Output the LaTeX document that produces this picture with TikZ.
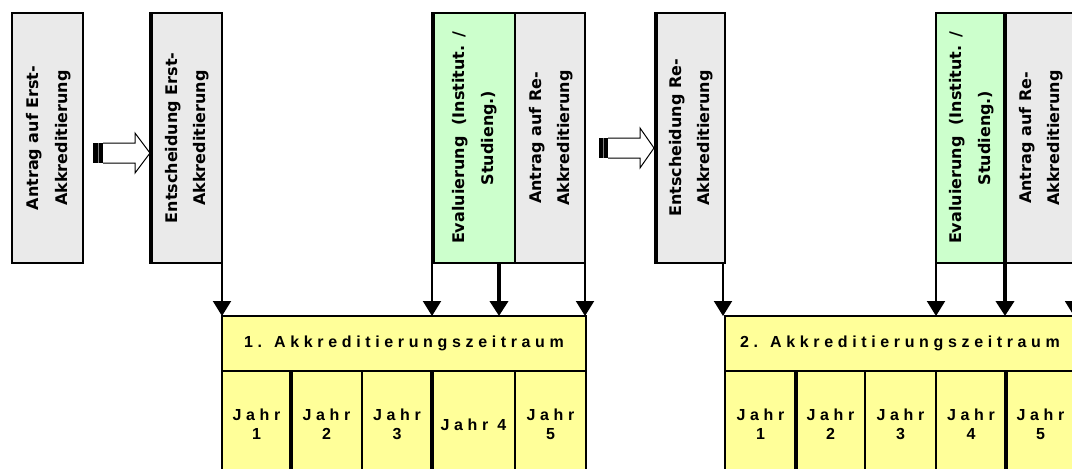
\documentclass[tikz,border=0pt]{standalone}
\usepackage{fontspec}
\usepackage{graphicx}
\usetikzlibrary{arrows.meta,calc}
\newfontfamily\stagefont{DejaVu Sans}
\newfontfamily\periodfont{Liberation Sans}[LetterSpace=29]
\definecolor{boxgray}{RGB}{234,234,234}
\definecolor{evalgreen}{RGB}{204,255,204}
\definecolor{periodyellow}{RGB}{255,255,153}
\newcommand{\vlines}[2]{\rotatebox{90}{\begin{tabular}{@{}c@{}}#1\\#2\end{tabular}}}
\begin{document}
\begin{tikzpicture}[x=1pt,y=-1pt,
  stagebox/.style={draw=black, line width=2pt, fill=boxgray, inner sep=0pt,
    outer sep=0pt, anchor=north west, minimum height=250pt,
    font=\stagefont\bfseries\fontsize{16}{28.5}\selectfont},
  evalbox/.style={stagebox, fill=evalgreen},
  periodhead/.style={draw=black, line width=2pt, fill=periodyellow, inner sep=0pt,
    outer sep=0pt, anchor=north west, minimum height=55pt,
    font=\periodfont\bfseries\fontsize{16}{19}\selectfont},
  yearcell/.style={periodhead, minimum height=107pt, align=center},
  conn/.style={-{Triangle[length=15pt,width=18pt]}, line width=2pt},
  connthick/.style={conn, line width=4pt},
  edgethick/.style={line width=4pt},
  blockarrow/.style={draw=black, line width=1pt, fill=white, line join=miter}
]
\useasboundingbox (0,0) rectangle (1072,469);
\clip (0,0) rectangle (1072,469);

% first accreditation: application and decision
\node[stagebox, minimum width=71pt] (antrag1) at (12,13)
  {\vlines{Antrag auf Erst-}{Akkreditierung}};
\node[stagebox, minimum width=72pt] (entsch1) at (150,13)
  {\vlines{Entscheidung Erst-}{Akkreditierung}};
\draw[edgethick] ($(entsch1.north west)+(1,0)$) -- ($(entsch1.south west)+(1,0)$);

% evaluation and re-accreditation application, period 1
\node[evalbox, minimum width=83pt] (eval1) at (432,13)
  {\vlines{Evaluierung~ (Institut. /}{Studieng.)}};
\node[stagebox, minimum width=70pt] (reantrag1) at (515,13)
  {\vlines{Antrag auf Re-}{Akkreditierung}};
\draw[edgethick] ($(eval1.north west)+(1,0)$) -- ($(eval1.south west)+(1,0)$);

% re-accreditation decision
\node[stagebox, minimum width=70pt] (entsch2) at (655,13)
  {\vlines{Entscheidung Re-}{Akkreditierung}};
\draw[edgethick] ($(entsch2.north west)+(1,0)$) -- ($(entsch2.south west)+(1,0)$);

% evaluation and re-accreditation application, period 2
\node[evalbox, minimum width=69pt] (eval2) at (936,13)
  {\vlines{Evaluierung~ (Institut. /}{Studieng.)}};
\node[stagebox, minimum width=70pt] (reantrag2) at (1005,13)
  {\vlines{Antrag auf Re-}{Akkreditierung}};
\draw[line width=3.5pt] (reantrag2.north west) -- (reantrag2.south west);

% first accreditation period
\node[periodhead, minimum width=364pt] (head1) at (222,316) {1. Akkreditierungszeitraum};
\node[yearcell, minimum width=69pt] (y11) at (222,371) {Jahr\\1};
\node[yearcell, minimum width=71pt] (y12) at (291,371) {Jahr\\2};
\node[yearcell, minimum width=70pt] (y13) at (362,371) {Jahr\\3};
\node[yearcell, minimum width=83pt] (y14) at (432,371) {Jahr 4};
\node[yearcell, minimum width=71pt] (y15) at (515,371) {Jahr\\5};
\draw[edgethick] (y12.north west) -- (y12.south west);
\draw[line width=3.5pt] (y14.north west) -- (y14.south west);

% second accreditation period
\node[periodhead, minimum width=350pt] (head2) at (725,316) {2. Akkreditierungszeitraum};
\node[yearcell, minimum width=71pt] (y21) at (725,371) {Jahr\\1};
\node[yearcell, minimum width=69pt] (y22) at (796,371) {Jahr\\2};
\node[yearcell, minimum width=71pt] (y23) at (865,371) {Jahr\\3};
\node[yearcell, minimum width=70pt] (y24) at (936,371) {Jahr\\4};
\node[yearcell, minimum width=69pt] (y25) at (1006,371) {Jahr\\5};
\draw[edgethick] (y22.north west) -- (y22.south west);
\draw[edgethick] (y25.north west) -- (y25.south west);

% block arrows from application to decision
\coordinate (tipA) at ($(entsch1.north west)+(0,140)$);
\fill[black] ($(tipA)+(-57,-10)$) rectangle ($(tipA)+(-47,10)$);
\draw[gray, line width=0.6pt] ($(tipA)+(-52,-10)$) -- ($(tipA)+(-52,10)$);
\draw[blockarrow] ($(tipA)+(-47,-10)$) -- ($(tipA)+(-15,-10)$) -- ($(tipA)+(-15,-20)$)
  -- (tipA) -- ($(tipA)+(-15,20)$) -- ($(tipA)+(-15,10)$) -- ($(tipA)+(-47,10)$);

\coordinate (tipB) at ($(entsch2.north west)+(-1,135)$);
\fill[black] ($(tipB)+(-55,-10)$) rectangle ($(tipB)+(-46,10)$);
\draw[gray, line width=0.6pt] ($(tipB)+(-50.5,-10)$) -- ($(tipB)+(-50.5,10)$);
\draw[blockarrow] ($(tipB)+(-46,-10)$) -- ($(tipB)+(-14,-10)$) -- ($(tipB)+(-14,-20)$)
  -- (tipB) -- ($(tipB)+(-14,20)$) -- ($(tipB)+(-14,10)$) -- ($(tipB)+(-46,10)$);

% connectors into the accreditation periods
\draw[conn] (entsch1.south east) -- (entsch1.south east |- head1.north);
\draw[conn] (eval1.south west) -- (eval1.south west |- head1.north);
\draw[connthick] ($(eval1.south west)+(67,0)$) -- ($(eval1.south west |- head1.north)+(67,0)$);
\draw[conn] (reantrag1.south east) -- (reantrag1.south east |- head1.north);

\draw[conn] ($(entsch2.south east)+(-2,0)$) -- ($(entsch2.south east |- head2.north)+(-2,0)$);
\draw[conn] (eval2.south west) -- (eval2.south west |- head2.north);
\draw[connthick] (eval2.south east) -- (eval2.south east |- head2.north);
\draw[conn] ($(reantrag2.south east)+(-1,0)$) -- ($(reantrag2.south east |- head2.north)+(-1,0)$);
\end{tikzpicture}
\end{document}
